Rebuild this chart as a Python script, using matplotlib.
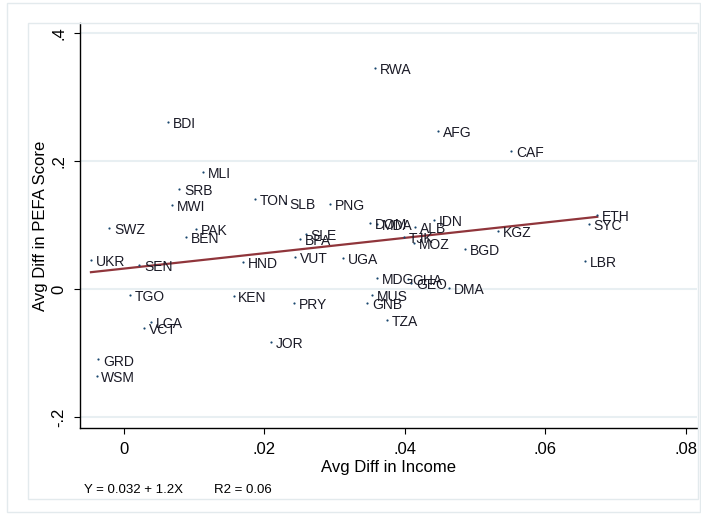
import matplotlib
matplotlib.use("Agg")
import matplotlib.pyplot as plt
from matplotlib.patches import Rectangle
import numpy as np

# =========================
# data
# =========================
countries = ["RWA", "BDI", "AFG", "CAF", "MLI", "SRB", "MWI", "TON", "SLB", "PNG",
             "SWZ", "PAK", "BEN", "SLE", "BFA", "DOM", "MDA", "IDN", "ALB", "TJK",
             "MOZ", "KGZ", "ETH", "SYC", "BGD", "UKR", "SEN", "HND", "VUT", "UGA",
             "LBR", "MDG", "GHA", "GEO", "DMA", "TGO", "KEN", "PRY", "MUS", "GNB",
             "TZA", "LCA", "VCT", "JOR", "GRD", "WSM"]
income_diff = [0.0357, 0.0063, 0.0447, 0.0551, 0.0112, 0.0079, 0.0069, 0.0186, 0.0229, 0.0294,
               -0.0021, 0.0102, 0.0088, 0.0259, 0.0250, 0.0350, 0.0361, 0.0441, 0.0415, 0.0399,
               0.0413, 0.0532, 0.0674, 0.0662, 0.0486, -0.0047, 0.0022, 0.0170, 0.0243, 0.0312,
               0.0656, 0.0361, 0.0404, 0.0409, 0.0463, 0.0008, 0.0156, 0.0242, 0.0353, 0.0346,
               0.0374, 0.0039, 0.0028, 0.0209, -0.0037, -0.0039]
pefa_diff = [0.345, 0.261, 0.247, 0.216, 0.183, 0.157, 0.132, 0.141, 0.134, 0.133,
             0.096, 0.094, 0.081, 0.0855, 0.0776, 0.103, 0.101, 0.108, 0.097, 0.0817,
             0.0719, 0.0906, 0.1156, 0.1016, 0.062, 0.0448, 0.0375, 0.0417, 0.0505, 0.049,
             0.0438, 0.0167, 0.0155, 0.0095, 0.002, -0.0094, -0.011, -0.0219, -0.0094, -0.0214,
             -0.0484, -0.051, -0.0604, -0.0823, -0.110, -0.135]

fit_intercept = 0.032
fit_slope = 1.2
fit_r2 = 0.06

x_ticks = [0, 0.02, 0.04, 0.06, 0.08]
x_ticklabels = ["0", ".02", ".04", ".06", ".08"]
y_ticks = [-0.2, 0, 0.2, 0.4]
y_ticklabels = ["-.2", "0", ".2", ".4"]

# =========================
# style
# =========================
plt.rcParams["font.family"] = ["Liberation Sans", "DejaVu Sans"]
NAVY = "#1a476f"
MAROON = "#90353b"
GRID = "#e8eff2"
FRAME = "#e3eaed"

W, H = 701, 514
fig = plt.figure(figsize=(W / 100, H / 100), dpi=100)

# Stata-like graph region frames
fig.patches.append(Rectangle((7 / W, 1 - 512 / H), 693 / W, 509 / H, transform=fig.transFigure,
                             fill=False, edgecolor=FRAME, linewidth=1.0))
fig.patches.append(Rectangle((28 / W, 1 - 499 / H), 670 / W, 476 / H, transform=fig.transFigure,
                             fill=False, edgecolor=FRAME, linewidth=1.0))

ax = fig.add_axes([80 / W, 1 - 428 / H, 617 / W, 405 / H])
ax.set_xlim(-0.00626, 0.0816)
ax.set_ylim(-0.217, 0.4156)

for s in ["top", "right"]:
    ax.spines[s].set_visible(False)
for s in ["left", "bottom"]:
    ax.spines[s].set_linewidth(1.0)
    ax.spines[s].set_color("black")

for yt in y_ticks:
    ax.axhline(yt, color=GRID, linewidth=1.5, zorder=0)

ax.set_xticks(x_ticks)
ax.set_xticklabels(x_ticklabels, fontsize=12)
ax.set_yticks(y_ticks)
ax.set_yticklabels(y_ticklabels, fontsize=12, rotation=90, va="center")
ax.tick_params(direction="out", length=4, width=0.8, pad=6)

# scatter + labels
ax.scatter(income_diff, pefa_diff, s=2.5, color=NAVY, zorder=3, linewidths=0)
for name, xv, yv in zip(countries, income_diff, pefa_diff):
    ax.annotate(name, (xv, yv), xytext=(3.5, -1.5), textcoords="offset points",
                fontsize=10, color="#1a1a26", va="center", ha="left", zorder=4)

# fitted line
xs = np.array([min(income_diff), max(income_diff)])
ax.plot(xs, fit_intercept + fit_slope * xs, color=MAROON, linewidth=1.6, zorder=2)

ax.set_xlabel("Avg Diff in Income", fontsize=12, labelpad=2)
ax.set_ylabel("Avg Diff in PEFA Score", fontsize=12, labelpad=2.5)

fig.text(84 / W, 1 - 490 / H, f"Y = {fit_intercept} + {fit_slope}X", fontsize=9.5, va="center")
fig.text(214 / W, 1 - 490 / H, f"R2 = {fit_r2}", fontsize=9.5, va="center")

fig.savefig("out.png", dpi=100)
